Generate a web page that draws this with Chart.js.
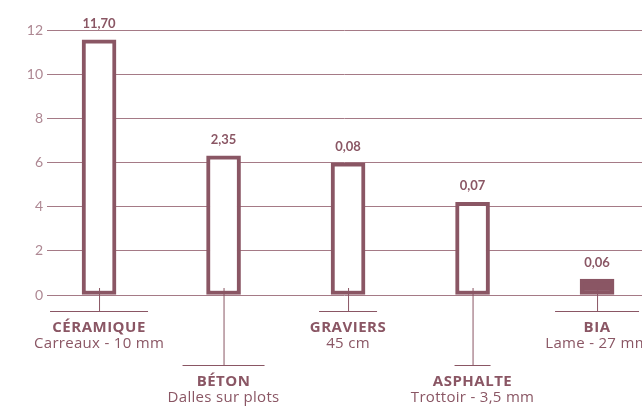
<!DOCTYPE html>
<html>
<head>
<meta charset="utf-8">
<script src="https://cdn.jsdelivr.net/npm/chart.js@4"></script>
<style>
  html, body { margin: 0; padding: 0; background: #fff; overflow: hidden; }
  #wrap { width: 642px; height: 411px; }
</style>
</head>
<body>
<div id="wrap"><canvas id="chart" width="642" height="411"></canvas></div>
<script>
// ---- DATA ----
const materials = ['CÉRAMIQUE', 'BÉTON', 'GRAVIERS', 'ASPHALTE', 'BIA'];
const details = ['Carreaux - 10 mm', 'Dalles sur plots', '45 cm', 'Trottoir - 3,5 mm', 'Lame - 27 mm'];
const barHeights = [11.55, 6.3, 5.98, 4.2, 0.72];
const valueLabels = ['11,70', '2,35', '0,08', '0,07', '0,06'];
const yTicks = [0, 2, 4, 6, 8, 10, 12];

// ---- STYLE ----
const mauve = '#8a5664';
const gridColor = '#a57a86';
const tickColor = '#ae8893';
const font = '"Open Sans", Lato, sans-serif';
const leaderWidths = [98, 82, 58, 36, 84];

// labels under the axis, alternating high / low with leader lines
const labelPlugin = {
  id: 'labels',
  afterDatasetsDraw(chart) {
    const ctx = chart.ctx;
    const meta = chart.getDatasetMeta(0);
    const base = chart.scales.y.getPixelForValue(0);
    ctx.save();
    meta.data.forEach((bar, i) => {
      const x = bar.x;
      // value above the bar
      ctx.fillStyle = mauve;
      ctx.font = 'bold 13px Lato, sans-serif';
      ctx.textAlign = 'center';
      ctx.textBaseline = 'middle';
      ctx.letterSpacing = '0px';
      ctx.fillText(valueLabels[i], x, bar.y - 16);

      // leader line
      const low = i % 2 === 1;
      const lineY = low ? base + 70 : base + 16;
      ctx.strokeStyle = mauve;
      ctx.lineWidth = 1;
      ctx.beginPath();
      ctx.moveTo(x + 0.5, base - 7);
      ctx.lineTo(x + 0.5, lineY);
      ctx.moveTo(x - leaderWidths[i] / 2, lineY + 0.5);
      ctx.lineTo(x + leaderWidths[i] / 2, lineY + 0.5);
      ctx.stroke();

      // category name + detail
      ctx.font = 'bold 15px ' + font;
      ctx.letterSpacing = '0.5px';
      ctx.fillText(materials[i], x, lineY + 17);
      ctx.font = '15px ' + font;
      ctx.letterSpacing = '0.3px';
      ctx.fillText(details[i], x, lineY + 33);
    });
    ctx.restore();
  }
};

new Chart(document.getElementById('chart'), {
  type: 'bar',
  data: {
    datasets: [{
      data: barHeights.map((v, i) => ({ x: i, y: v })),
      backgroundColor: ['#fff', '#fff', '#fff', '#fff', mauve],
      borderColor: mauve,
      borderWidth: 4,
      borderSkipped: false,
      barThickness: 34
    }]
  },
  options: {
    responsive: false,
    animation: false,
    layout: { padding: { top: 30, bottom: 116, left: 0, right: 0 } },
    plugins: { legend: { display: false }, tooltip: { enabled: false } },
    scales: {
      x: {
        type: 'linear',
        display: false,
        offset: false,
        min: -0.418,
        max: 4.361
      },
      y: {
        min: 0,
        max: 12,
        afterBuildTicks: (s) => { s.ticks = yTicks.map(v => ({ value: v })); },
        afterFit: (s) => { s.width = 47; },
        border: { display: false },
        grid: { color: gridColor, lineWidth: 1, drawTicks: false },
        ticks: {
          color: tickColor,
          padding: 4,
          font: { family: 'Lato, sans-serif', size: 14 }
        }
      }
    }
  },
  plugins: [labelPlugin]
});
</script>
</body>
</html>
